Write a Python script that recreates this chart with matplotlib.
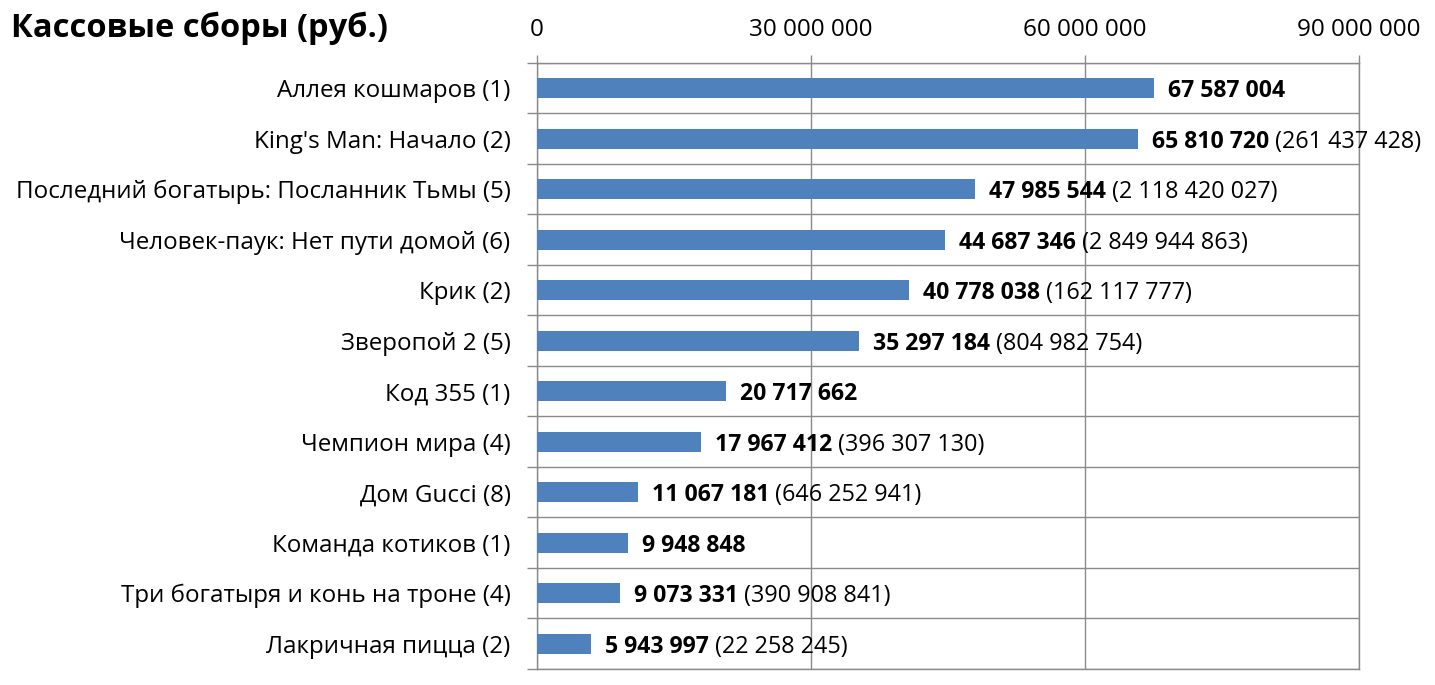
import numpy as np
import matplotlib.pyplot as plt
from matplotlib.ticker import FixedLocator, FuncFormatter

plt.rcParams['font.family'] = ['Open Sans', 'DejaVu Sans']

films = [
    "Аллея кошмаров (1)",
    "King's Man: Начало (2)",
    "Последний богатырь: Посланник Тьмы (5)",
    "Человек-паук: Нет пути домой (6)",
    "Крик (2)",
    "Зверопой 2 (5)",
    "Код 355 (1)",
    "Чемпион мира (4)",
    "Дом Gucci (8)",
    "Команда котиков (1)",
    "Три богатыря и конь на троне (4)",
    "Лакричная пицца (2)",
]
weekend = [67587004, 65810720, 47985544, 44687346, 40778038, 35297184,
           20717662, 17967412, 11067181, 9948848, 9073331, 5943997]
total = [None, 261437428, 2118420027, 2849944863, 162117777, 804982754,
         None, 396307130, 646252941, None, 390908841, 22258245]
x_ticks = [0, 30000000, 60000000, 90000000]


def fmt(v):
    return f"{int(v):,}".replace(",", " ")


fig = plt.figure(figsize=(14.35, 6.85), dpi=100)
ax = fig.add_axes([0.3742, 0.0234, 0.5728, 0.8847])

grey = "#8a8a8a"
y = np.arange(len(films))
ax.barh(y, weekend, height=0.4, color="#4f81bd", zorder=3)

ax.set_xlim(0, 90000000)
ax.set_ylim(len(films) - 0.5, -0.5)

ax.xaxis.set_major_locator(FixedLocator(x_ticks))
ax.xaxis.set_major_formatter(FuncFormatter(lambda v, p: fmt(v)))
ax.xaxis.tick_top()
ax.tick_params(axis="x", which="major", direction="out", length=6, width=1,
               color=grey, labelsize=17.5, pad=9)
ax.grid(axis="x", color=grey, linewidth=1, zorder=1)

ax.set_yticks(y)
ax.set_yticklabels(films)
ax.yaxis.set_minor_locator(FixedLocator(np.arange(len(films) + 1) - 0.5))
ax.tick_params(axis="y", which="major", length=0, labelsize=17.4, pad=19)
ax.tick_params(axis="y", which="minor", direction="out", length=7, width=1,
               color=grey)
ax.grid(axis="y", which="minor", color=grey, linewidth=1, zorder=1)

for s in ax.spines.values():
    s.set_color(grey)
    s.set_linewidth(1)

for i, (w, t) in enumerate(zip(weekend, total)):
    lab = ax.annotate(fmt(w), xy=(w, i), xytext=(10, 0), textcoords="offset points",
                      va="center_baseline", ha="left", fontsize=16.6,
                      fontweight="bold")
    if t is not None:
        ax.annotate(" (" + fmt(t) + ")", xy=(1, 0.5), xycoords=lab,
                    va="center", ha="left", fontsize=16.8)

fig.text(0.008, 0.958, "Кассовые сборы (руб.)", fontsize=23.5, fontweight="bold",
         va="center", ha="left")

fig.savefig("out.png", dpi=100)
